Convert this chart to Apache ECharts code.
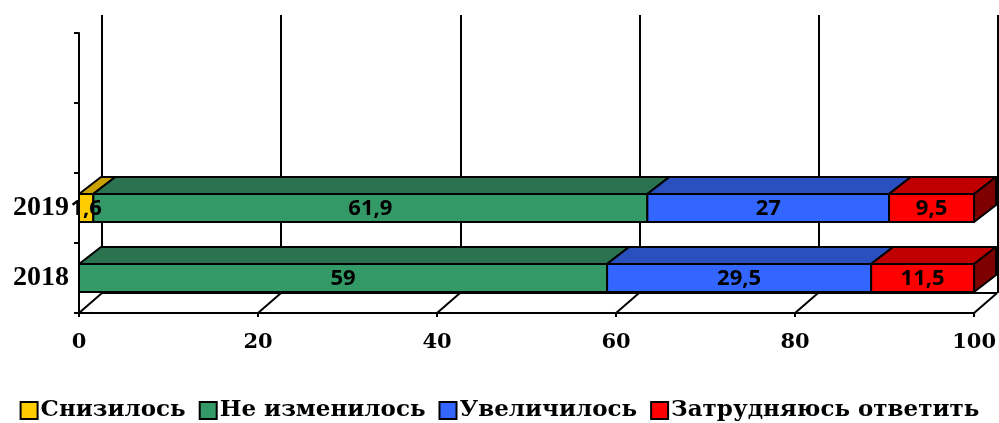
<!DOCTYPE html>
<html>
<head>
<meta charset="utf-8">
<script src="https://cdn.jsdelivr.net/npm/echarts@6/dist/echarts.min.js"></script>
<style>html,body{margin:0;padding:0;background:#fff}#chart{width:999px;height:423px}</style>
</head>
<body>
<div id="chart"></div>
<script>
// ==================== DATA ====================
const years = ['2018', '2019'];
const seriesNames = ['Снизилось', 'Не изменилось', 'Увеличилось', 'Затрудняюсь ответить'];
const decreased = [0, 1.6];
const unchanged = [59, 61.9];
const increased = [29.5, 27];
const undecided = [11.5, 9.5];
const xTicks = [0, 20, 40, 60, 80, 100];

// ==================== STYLE ====================
const frontC = ['#ffcc00', '#339966', '#3366ff', '#ff0000'];
const topC = ['#c9a100', '#2b7350', '#2a4fbf', '#c00000'];
const sideC = ['#a08000', '#1f5a3c', '#1f3a8f', '#7f0000'];
const BOX_DX = 22, BOX_DY = -17;    // bar depth offset
const FLOOR_DX = 23, FLOOR_DY = -20; // wall depth offset

const allValues = [decreased, unchanged, increased, undecided];

// stacked starts, series index kept in the item
function buildData(si) {
  return years.map((y, ci) => {
    let start = 0;
    for (let k = 0; k < si; k++) start += allValues[k][ci];
    return [ci, start, allValues[si][ci], si];
  });
}

function fmt(v) { return String(v).replace('.', ','); }

function renderBox(params, api) {
  const cat = api.value(0), start = api.value(1), len = api.value(2), si = api.value(3);
  if (!len) return;
  const p0 = api.coord([start, cat]);
  const p1 = api.coord([start + len, cat]);
  const h = api.size([0, 1])[1] * 0.4;
  const x0 = p0[0], x1 = p1[0], yT = p0[1] - h / 2, yB = p0[1] + h / 2;
  const ln = {stroke: '#000', lineWidth: 2, lineJoin: 'round'};
  return {
    type: 'group',
    children: [
      {type: 'polygon', shape: {points: [[x0, yT], [x0 + BOX_DX, yT + BOX_DY], [x1 + BOX_DX, yT + BOX_DY], [x1, yT]]},
        style: Object.assign({fill: topC[si]}, ln)},
      {type: 'polygon', shape: {points: [[x1, yT], [x1 + BOX_DX, yT + BOX_DY], [x1 + BOX_DX, yB + BOX_DY], [x1, yB]]},
        style: Object.assign({fill: sideC[si]}, ln)},
      {type: 'rect', shape: {x: x0, y: yT, width: x1 - x0, height: yB - yT},
        style: Object.assign({fill: frontC[si]}, ln)},
      {type: 'text', z2: 100, style: {x: (x0 + x1) / 2, y: p0[1] + 1, text: fmt(len), align: 'center', verticalAlign: 'middle',
        fill: '#000', font: 'bold 22px "Open Sans"'}}
    ]
  };
}

function renderFloor(params, api) {
  const v = api.value(0);
  const cs = params.coordSys;
  const yb = cs.y + cs.height;
  const p = api.coord([v, 0]);
  const children = [
    {type: 'line', shape: {x1: p[0], y1: yb, x2: p[0] + FLOOR_DX, y2: yb + FLOOR_DY}, style: {stroke: '#000', lineWidth: 2}}
  ];
  if (params.dataIndex === 0) {
    children.push({type: 'line', shape: {x1: cs.x + FLOOR_DX, y1: yb + FLOOR_DY, x2: cs.x + cs.width + FLOOR_DX, y2: yb + FLOOR_DY},
      style: {stroke: '#000', lineWidth: 2}});
  }
  return {type: 'group', children};
}

const series = seriesNames.map((name, si) => ({
  name, type: 'custom', renderItem: renderBox, xAxisIndex: 0, yAxisIndex: 0,
  itemStyle: {color: frontC[si]}, data: buildData(si), z: 3
}));
series.push({name: 'floor', type: 'custom', renderItem: renderFloor, xAxisIndex: 0, yAxisIndex: 0,
  data: xTicks.map(v => [v]), z: 1, silent: true});

const chart = echarts.init(document.getElementById('chart'));
chart.setOption({
  animation: false,
  backgroundColor: '#fff',
  color: frontC,
  grid: [
    {left: 79, right: 24, top: 33, bottom: 110},
    {left: 79 + FLOOR_DX, right: 24 - FLOOR_DX, top: 33 + FLOOR_DY + 2, bottom: 110 - FLOOR_DY}
  ],
  xAxis: [
    {type: 'value', gridIndex: 0, min: 0, max: 100, interval: 20,
      axisLine: {show: true, lineStyle: {color: '#000', width: 2}},
      axisTick: {show: true, length: 4, lineStyle: {color: '#000', width: 2}},
      splitLine: {show: false},
      axisLabel: {color: '#000', fontFamily: 'DejaVu Serif', fontWeight: 'bold', fontSize: 21, margin: 19}},
    {type: 'value', gridIndex: 1, min: 0, max: 100, interval: 20,
      axisLine: {show: false}, axisTick: {show: false}, axisLabel: {show: false},
      splitLine: {show: true, lineStyle: {color: '#000', width: 2}}}
  ],
  yAxis: [
    {type: 'category', gridIndex: 0, data: years.concat(['', '']),
      axisLine: {show: true, lineStyle: {color: '#000', width: 2}},
      axisTick: {show: true, length: 5, lineStyle: {color: '#000', width: 2}},
      splitLine: {show: false},
      axisLabel: {color: '#000', fontFamily: 'Liberation Serif', fontWeight: 'bold', fontSize: 28, margin: 10}},
    {type: 'category', gridIndex: 1, data: years.concat(['', '']), show: false}
  ],
  legend: {
    data: seriesNames, top: 394, left: 'center', icon: 'rect', itemWidth: 17, itemHeight: 17, itemGap: 13,
    itemStyle: {borderColor: '#000', borderWidth: 2},
    textStyle: {color: '#000', fontFamily: 'DejaVu Serif', fontWeight: 'bold', fontSize: 23, padding: [0, 0, 0, -2]}
  },
  series
});
</script>
</body>
</html>
